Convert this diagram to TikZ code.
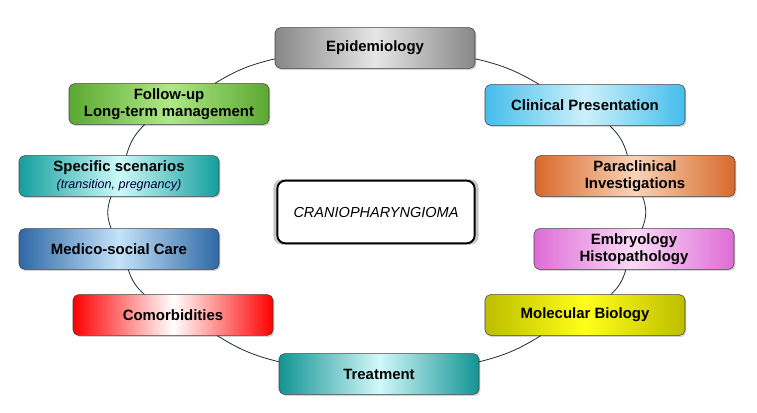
\documentclass[tikz,border=0pt]{standalone}
\usepackage{fontspec}
\setmainfont{Liberation Sans}
\usetikzlibrary{shadows}

\definecolor{epiD}{HTML}{878787}
\definecolor{epiL}{HTML}{E6E6E6}
\definecolor{cliD}{HTML}{45BDEB}
\definecolor{cliL}{HTML}{CDF0FC}
\definecolor{parD}{HTML}{D8692A}
\definecolor{parL}{HTML}{F9D3B8}
\definecolor{embD}{HTML}{DE6CD6}
\definecolor{embL}{HTML}{FADAF6}
\definecolor{molD}{HTML}{BDBD00}
\definecolor{molL}{HTML}{FFFF1A}
\definecolor{treD}{HTML}{129494}
\definecolor{treL}{HTML}{D2F8FA}
\definecolor{comD}{HTML}{FF0000}
\definecolor{comL}{HTML}{FFFFFF}
\definecolor{medD}{HTML}{2E68A6}
\definecolor{medL}{HTML}{C4E3F9}
\definecolor{speD}{HTML}{139E9E}
\definecolor{speL}{HTML}{CDF9F9}
\definecolor{folD}{HTML}{5BA833}
\definecolor{folL}{HTML}{AEE886}
\definecolor{arcline}{HTML}{1F2A3A}

\begin{document}
\begin{tikzpicture}[x=0.75pt, y=-0.75pt,
    topic/.style={draw=black!75, rounded corners=4pt, minimum width=150pt,
      minimum height=30.5pt, inner sep=1pt, align=center,
      font=\bfseries\fontsize{11.2}{12.8}\selectfont,
      drop shadow={opacity=0.35, shadow xshift=1pt, shadow yshift=-1.2pt}},
    tone/.style 2 args={left color=#1, right color=#1, middle color=#2},
    hub/.style={draw=black, line width=1.4pt, rounded corners=6pt, fill=white,
      minimum width=148pt, minimum height=47pt,
      font=\itshape\fontsize{10.9}{12}\selectfont,
      drop shadow={opacity=0.45, shadow xshift=0pt, shadow yshift=0pt, shadow scale=1.04}},
    link/.style={draw=arcline, line width=0.6pt}]
  \useasboundingbox (0,0) rectangle (757,412);

  \node[hub] (core) at (376,212) {CRANIOPHARYNGIOMA};

  \node[topic, tone={epiD}{epiL}] (epi) at (375,48) {Epidemiology};
  \node[topic, tone={cliD}{cliL}] (clin) at (585,105) {Clinical Presentation};
  \node[topic, tone={parD}{parL}] (para) at (635,176) {Paraclinical\\Investigations};
  \node[topic, tone={embD}{embL}] (embryo) at (634,249) {Embryology\\Histopathology};
  \node[topic, tone={molD}{molL}] (molbio) at (585,315) {Molecular Biology};
  \node[topic, tone={treD}{treL}] (treat) at (379,374) {Treatment};
  \node[topic, tone={comD}{comL}] (comorb) at (173,315) {Comorbidities};
  \node[topic, tone={medD}{medL}] (medsoc) at (119,249) {Medico-social Care};
  \node[topic, tone={speD}{speL}] (special) at (119,176)
    {Specific scenarios\\{\mdseries\itshape\fontsize{9.4}{11}\selectfont\color{black!80!blue}(transition, pregnancy)}};
  \node[topic, tone={folD}{folL}] (follow) at (169,104) {Follow-up\\Long-term management};

  % ring of topics
  \draw[link] (epi) to[bend left=9] (clin);
  \draw[link] (clin) to[bend left=15] (para);
  \draw[link] (para) to[bend left=21] (embryo);
  \draw[link] (embryo) to[bend left=15] (molbio);
  \draw[link] (molbio) to[bend left=9] (treat);
  \draw[link] (treat) to[bend left=9] (comorb);
  \draw[link] (comorb) to[bend left=15] (medsoc);
  \draw[link] (medsoc) to[bend left=21] (special);
  \draw[link] (special) to[bend left=15] (follow);
  \draw[link] (follow) to[bend left=9] (epi);
\end{tikzpicture}
\end{document}
